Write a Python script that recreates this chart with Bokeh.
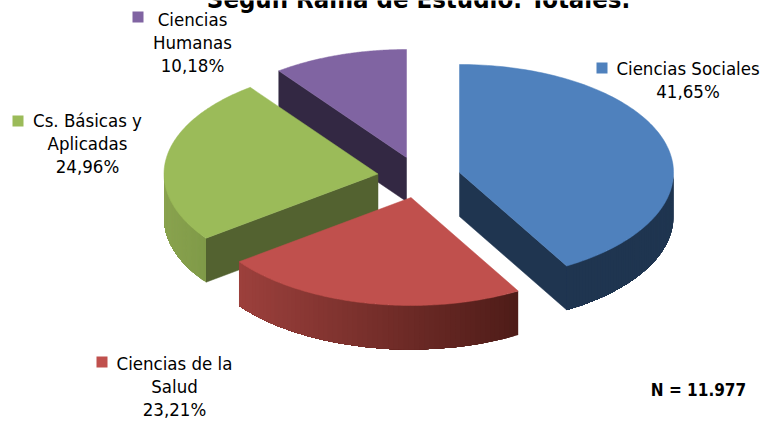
import numpy as np
from bokeh.core.properties import value
from bokeh.embed import file_html
from bokeh.models import ColumnDataSource
from bokeh.plotting import figure
from bokeh.resources import INLINE

# ---- data ----
categories = ["Ciencias Sociales", "Ciencias de la Salud", "Cs. Básicas y Aplicadas", "Ciencias Humanas"]
percentages = [41.65, 23.21, 24.96, 10.18]
title_text = "Según Rama de Estudio. Totales."
note_text = "N = 11.977"

# ---- styles / layout ----
W, H = 763, 421
RX, RY, DEPTH = 214.0, 108.0, 44.0
apex = [(459, 172), (410.5, 197), (377.5, 173.5), (406, 157)]
top_col = ["#4f81bd", "#c0504d", "#9bbb59", "#8064a2"]
wall_col = ["#1f3550", None, "#536230", "#332843"]
side_ramp = [("#1f3550", "#1f3550"), ("#9c403c", "#4e1c18"), ("#8aa34f", "#7f9a48"), ("#8064a2", "#8064a2")]
legend_xy = [(601.5, 67.5), (101.5, 361.5), (17.5, 120.5), (137.5, 16.5)]
label_lines = [["Ciencias Sociales"], ["Ciencias de la", "Salud"], ["Cs. Básicas y", "Aplicadas"], ["Ciencias", "Humanas"]]
label_xy = [(687.5, 68), (174, 363), (87, 120), (192, 19)]
LINE_H = 23
FONT = value("DejaVu Sans Condensed")
FS = "18.5px"

p = figure(width=W, height=H, x_range=(0, W), y_range=(H, 0), output_backend="svg",
           toolbar_location=None, min_border=0, margin=(0, 0, 0, 0), outline_line_color=None)
p.axis.visible = False
p.grid.visible = False


def hex2rgb(h):
    return np.array([int(h[i:i + 2], 16) for i in (1, 3, 5)], float)


def rgb2hex(c):
    return "#%02x%02x%02x" % tuple(int(round(v)) for v in c)


def pt(center, theta):
    return center[0] + RX * np.sin(theta), center[1] - RY * np.cos(theta)


edges = np.cumsum([0.0] + percentages) / sum(percentages) * 2 * np.pi
order = [3, 2, 1, 0]
for i in order:
    a0, a1, c = edges[i], edges[i + 1], apex[i]
    # radial wall facing the viewer
    wall_angle = None
    if i == 0:
        wall_angle = a1
    elif i in (2, 3):
        wall_angle = a0
    if wall_angle is not None:
        ex, ey = pt(c, wall_angle)
        p.patch([c[0], ex, ex, c[0]], [c[1], ey, ey + DEPTH, c[1] + DEPTH],
                fill_color=wall_col[i], line_color=wall_col[i], line_width=0.5)
    # outer rim (front half only), drawn as overlapping shaded strips
    lo, hi = max(a0, np.pi / 2), min(a1, 3 * np.pi / 2)
    if hi > lo:
        th = np.linspace(lo, hi, 61)
        xs, ys = pt(c, th)
        c_l, c_r = hex2rgb(side_ramp[i][0]), hex2rgb(side_ramp[i][1])
        xmin, xmax = xs.min(), xs.max()
        sx, sy, cols = [], [], []
        for k in range(len(th) - 1):
            e = len(th) - 1  # each strip runs to the far end, the next one paints over it
            xa, ya = xs[k:e + 1], ys[k:e + 1]
            sx.append(np.r_[xa, xa[::-1]])
            sy.append(np.r_[ya, ya[::-1] + DEPTH])
            t = ((xs[k] + xs[k + 1]) / 2 - xmin) / (xmax - xmin)
            cols.append(rgb2hex(c_l + (c_r - c_l) * t))
        p.patches(xs="x", ys="y", fill_color="col", line_color=None,
                  source=ColumnDataSource(dict(x=sx, y=sy, col=cols)))
    # top face
    th = np.linspace(a0, a1, 120)
    xs, ys = pt(c, th)
    p.patch(np.r_[c[0], xs], np.r_[c[1], ys], fill_color=top_col[i], line_color=top_col[i], line_width=0.5)

# legend keys
p.scatter([q[0] for q in legend_xy], [q[1] for q in legend_xy], marker="square", size=11,
          fill_color=top_col, line_color=None)

# labels
tx, ty, tt = [], [], []
for i, lines in enumerate(label_lines):
    all_lines = lines + [f"{percentages[i]:.2f}".replace(".", ",") + "%"]
    for j, s in enumerate(all_lines):
        tx.append(label_xy[i][0])
        ty.append(label_xy[i][1] + j * LINE_H)
        tt.append(s)
p.text(tx, ty, text=tt, text_font=FONT, text_font_size=FS, text_color="#000000",
       text_align="center", text_baseline="middle")

p.text([698], [389.5], text=[note_text], text_font=FONT, text_font_size="17px", text_font_style="bold",
       text_color="#000000", text_align="center", text_baseline="middle")
p.text([418], [-2], text=[title_text], text_font=FONT, text_font_size="25.5px", text_font_style="bold",
       text_color="#000000", text_align="center", text_baseline="middle")

open("out.html", "w").write(file_html(p, INLINE))
